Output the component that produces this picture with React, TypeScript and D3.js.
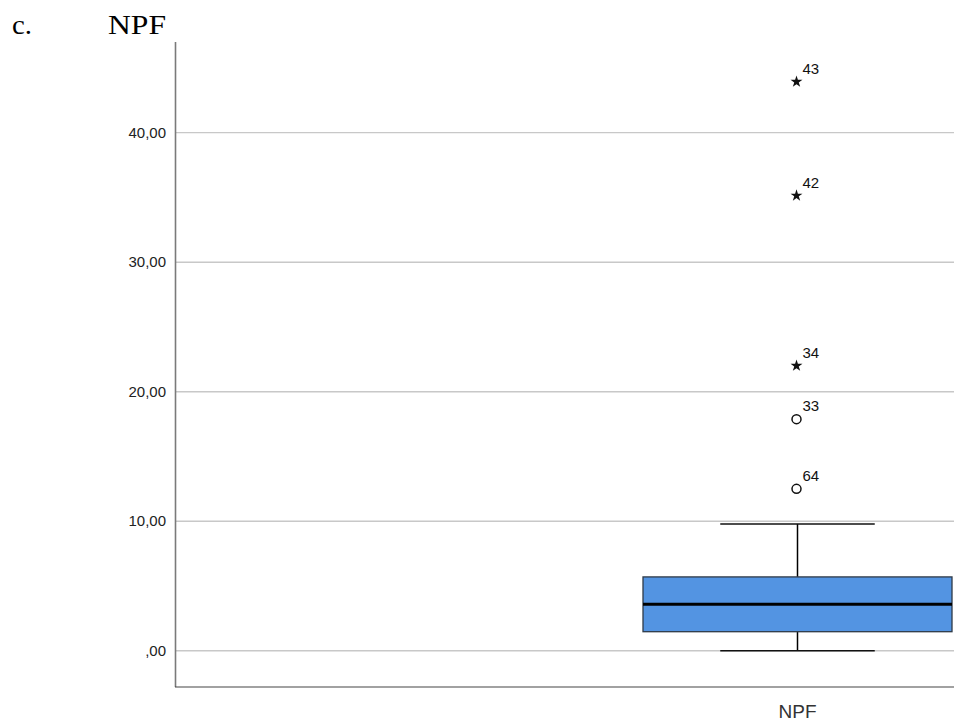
import React from "react";
import * as d3 from "d3";

// Box-plot summary for NPF
const categories = ["NPF"];
const boxQ1 = [1.47];
const boxMedian = [3.59];
const boxQ3 = [5.7];
const whiskerLow = [0];
const whiskerHigh = [9.79];

// Outlying cases: case number, value, kind (circle = outlier, star = extreme)
const outlierIds = ["43", "42", "34", "33", "64"];
const outlierValues = [43.93, 35.14, 22.0, 17.88, 12.5];
const outlierKinds = ["star", "star", "star", "circle", "circle"];

const yTicks = [0, 10, 20, 30, 40];
const yTickLabels = [",00", "10,00", "20,00", "30,00", "40,00"];

const W = 954;
const H = 725;
const plotLeft = 176;
const plotRight = 954;
const plotTop = 42;
const plotBottom = 687;

export default function App() {
  const y = d3.scaleLinear().domain([-2.8, 47]).range([plotBottom, plotTop]);
  const x = d3.scaleBand<string>().domain(categories).range([643, 952]).padding(0);

  const starPath = d3.symbol(d3.symbolStar, 44)() as string;
  const sans = "'Liberation Sans', Arial, sans-serif";

  return (
    <svg
      width={W}
      height={H}
      style={{ position: "absolute", left: 0, top: 0, background: "#fff" }}
    >
      {/* Title */}
      <text
        x={12}
        y={34}
        fontFamily="'Liberation Serif', 'Times New Roman', serif"
        fontSize={27}
        fill="#000"
        textLength={20}
        lengthAdjust="spacingAndGlyphs"
      >
        c.
      </text>
      <text
        x={108}
        y={34}
        fontFamily="'Liberation Serif', 'Times New Roman', serif"
        fontSize={27}
        fill="#000"
        textLength={58}
        lengthAdjust="spacingAndGlyphs"
      >
        NPF
      </text>

      {/* Gridlines */}
      {yTicks.map((t) => (
        <line
          key={"g" + t}
          x1={plotLeft}
          x2={plotRight}
          y1={y(t)}
          y2={y(t)}
          stroke="#c8c8c8"
          strokeWidth={1.4}
        />
      ))}

      {/* Y tick labels */}
      {yTicks.map((t, i) => (
        <text
          key={"l" + t}
          x={166}
          y={y(t) + 5}
          textAnchor="end"
          fontFamily={sans}
          fontSize={15}
          fill="#222"
        >
          {yTickLabels[i]}
        </text>
      ))}

      {/* Axes */}
      <line
        x1={plotLeft - 0.5}
        x2={plotLeft - 0.5}
        y1={plotTop}
        y2={plotBottom}
        stroke="#7a7a7a"
        strokeWidth={1.6}
      />
      <line
        x1={plotLeft - 1}
        x2={plotRight}
        y1={plotBottom}
        y2={plotBottom}
        stroke="#444"
        strokeWidth={1.2}
      />

      {categories.map((c, i) => {
        const x0 = x(c) as number;
        const bw = x.bandwidth();
        const cx = x0 + bw / 2;
        const capHalf = bw / 4;
        return (
          <g key={c}>
            {/* Whiskers */}
            <line x1={cx} x2={cx} y1={y(whiskerHigh[i])} y2={y(boxQ3[i])} stroke="#000" strokeWidth={1.5} />
            <line x1={cx} x2={cx} y1={y(boxQ1[i])} y2={y(whiskerLow[i])} stroke="#000" strokeWidth={1.5} />
            <line
              x1={cx - capHalf}
              x2={cx + capHalf}
              y1={y(whiskerHigh[i])}
              y2={y(whiskerHigh[i])}
              stroke="#111"
              strokeWidth={1.6}
            />
            <line
              x1={cx - capHalf}
              x2={cx + capHalf}
              y1={y(whiskerLow[i])}
              y2={y(whiskerLow[i])}
              stroke="#111"
              strokeWidth={1.6}
            />
            {/* Box */}
            <rect
              x={x0}
              y={y(boxQ3[i])}
              width={bw}
              height={y(boxQ1[i]) - y(boxQ3[i])}
              fill="#5394e2"
              stroke="#2f3a48"
              strokeWidth={1.3}
            />
            <line
              x1={x0}
              x2={x0 + bw}
              y1={y(boxMedian[i])}
              y2={y(boxMedian[i])}
              stroke="#000"
              strokeWidth={2.8}
            />
            {/* Outliers */}
            {outlierValues.map((v, k) => (
              <g key={outlierIds[k]}>
                {outlierKinds[k] === "star" ? (
                  <path d={starPath} transform={`translate(${cx - 1},${y(v)})`} fill="#111" />
                ) : (
                  <circle cx={cx - 1} cy={y(v)} r={4.5} fill="#fff" stroke="#111" strokeWidth={1.5} />
                )}
                <text
                  x={cx + 5}
                  y={y(v) - 8}
                  fontFamily={sans}
                  fontSize={15}
                  fill="#111"
                >
                  {outlierIds[k]}
                </text>
              </g>
            ))}
            {/* Category label */}
            <text
              x={cx}
              y={718}
              textAnchor="middle"
              fontFamily={sans}
              fontSize={19}
              fill="#333"
            >
              {c}
            </text>
          </g>
        );
      })}
    </svg>
  );
}
